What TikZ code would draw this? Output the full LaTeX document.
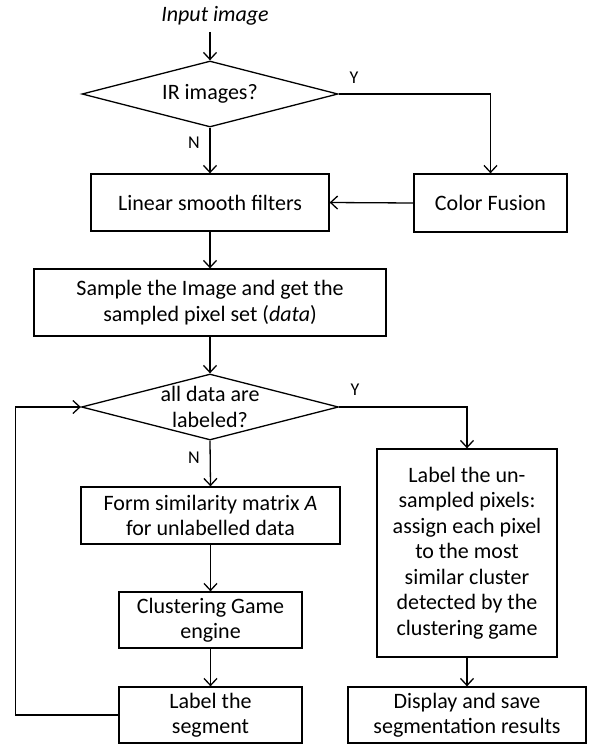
\documentclass[tikz,border=0pt]{standalone}
\usepackage{fontspec}
\setmainfont{Carlito}
\usetikzlibrary{shapes.geometric,arrows.meta}

\begin{document}
\begin{tikzpicture}[x=1pt,y=-1pt,
  font=\fontsize{22}{25.5}\selectfont,
  box/.style={draw,line width=1.3pt,align=center,inner sep=0pt},
  decision/.style={draw,diamond,line width=1.3pt,inner sep=0pt,
    minimum width=256pt,minimum height=66pt},
  flow/.style={line width=1.3pt,-{Straight Barb[length=7pt,width=13pt]}},
  yn/.style={font=\fontsize{18}{20}\selectfont}]
\useasboundingbox (0,0) rectangle (594,744);

\node (input) at (215,16) {\textit{Input image}};
\node[decision] (ir) at (210,94) {};
\node (irtext) at (ir) {IR images?};
\node[box,minimum width=238pt,minimum height=57pt] (smooth) at (210,202.5) {Linear smooth filters};
\node[box,minimum width=153pt,minimum height=58pt] (fusion) at (490.5,203) {Color Fusion};
\node[box,minimum width=352pt,minimum height=67pt] (sample) at (210,302.5)
  {Sample the Image and get the\\sampled pixel set (\textit{data})};
\node[decision,minimum width=257pt] (all) at (210,407) {};
\node (alltext) at (all) [align=center] {all data are\\labeled?};

\node[box,minimum width=259pt,minimum height=57pt] (simmat) at (210.5,515.5)
  {Form similarity matrix \textit{A}\\for unlabelled data};
\node[box,minimum width=183pt,minimum height=56pt] (game) at (210.5,620) {Clustering Game\\engine};
\node[box,minimum width=183pt,minimum height=56pt] (segment) at (210.5,715) {Label the\\segment};

\node[box,minimum width=180pt,minimum height=208pt] (unsampled) at (467,553)
  {Label the un-\\sampled pixels:\\assign each pixel\\to the most\\similar cluster\\detected by the\\clustering game};
\node[box,minimum width=238pt,minimum height=56pt] (display) at (467,715)
  {Display and save\\segmentation results};

% yes / no labels
\node[yn] (y1) at (354,78) {Y};
\node[yn] (n1) at (194,143) {N};
\node[yn] (y2) at (355,390) {Y};
\node[yn] (n2) at (194,458) {N};

\draw[flow,shorten <=3pt] (input.south -| ir.north) -- (ir.north);
\draw[flow] (ir.south) -- (smooth.north);
\draw[flow] (ir.east) -| (fusion.north);
\draw[flow] (fusion.west) -- (smooth.east);
\draw[flow] (smooth.south) -- (sample.north);
\draw[flow] (sample.south) -- (all.north);
\draw[flow] (all.south) -- (simmat.north);
\draw[flow] (simmat.south) -- (game.north);
\draw[flow] (game.south) -- (segment.north);
\draw[flow] (segment.west) -- ++(-103,0) |- (all.west);
\draw[flow] (all.east) -| (unsampled.north);
\draw[flow] (unsampled.south) -- (display.north);
\end{tikzpicture}
\end{document}
